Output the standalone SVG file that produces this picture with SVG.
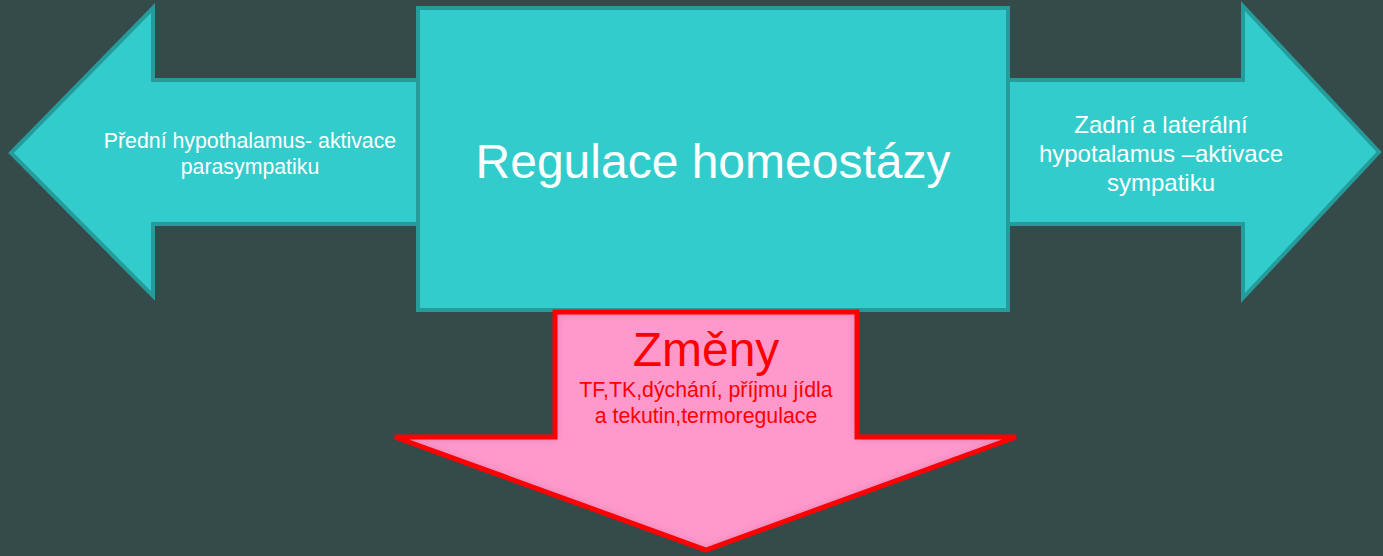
<svg xmlns="http://www.w3.org/2000/svg" width="1383" height="556" viewBox="0 0 1383 556">
<style>
.teal{fill:#33CCCC;stroke:#269B9B;stroke-width:4;stroke-linejoin:miter}
.pinkfill{fill:#FF99CC;stroke:none}
.redline{fill:none;stroke:#FF0000;stroke-width:5;stroke-linejoin:miter}
.wt{fill:#FFFFFF;font-family:"Liberation Sans",Arial,sans-serif;text-anchor:middle}
.rt{fill:#FF0000;font-family:"Liberation Sans",Arial,sans-serif;text-anchor:middle}
</style>
<defs>
<filter id="inner" x="-5%" y="-5%" width="110%" height="110%">
<feComponentTransfer in="SourceAlpha" result="inv"><feFuncA type="table" tableValues="1 0"/></feComponentTransfer>
<feGaussianBlur in="inv" stdDeviation="5" result="blur"/>
<feFlood flood-color="#7a2050" flood-opacity="0.55"/>
<feComposite in2="blur" operator="in" result="shadow"/>
<feComposite in="shadow" in2="SourceAlpha" operator="in" result="inshadow"/>
<feMerge><feMergeNode in="SourceGraphic"/><feMergeNode in="inshadow"/></feMerge>
</filter>
<polygon id="downshape" points="555,312 857,312 857,437 1016,437 706,550 395,437 555,437"/>
</defs>
<rect x="0" y="0" width="1383" height="556" fill="#344B49"/>
<g id="connectors"/>
<g id="left-arrow">
<polygon class="teal" points="11,153 153,8 153,80 420,80 420,224 153,224 153,296"/>
<text class="wt" font-size="21.3"><tspan x="250" y="148">Přední hypothalamus- aktivace</tspan><tspan x="250" y="173.5">parasympatiku</tspan></text>
</g>
<g id="right-arrow">
<polygon class="teal" points="1006,80 1243,80 1243,6 1379,152 1243,298 1243,224 1006,224"/>
<text class="wt" font-size="24"><tspan x="1161" y="133">Zadní a laterální</tspan><tspan x="1161" y="162">hypotalamus –aktivace</tspan><tspan x="1161" y="190.5">sympatiku</tspan></text>
</g>
<g id="center-box">
<rect class="teal" x="418" y="8" width="590" height="302"/>
<text class="wt" font-size="48" x="713" y="178">Regulace homeostázy</text>
</g>
<g id="down-arrow">
<use href="#downshape" class="pinkfill" filter="url(#inner)"/>
<use href="#downshape" class="redline"/>
<text class="rt" font-size="48" x="706" y="366">Změny</text>
<text class="rt" font-size="21.3"><tspan x="706" y="397">TF,TK,dýchání, příjmu jídla</tspan><tspan x="706" y="423">a tekutin,termoregulace</tspan></text>
</g>
</svg>
